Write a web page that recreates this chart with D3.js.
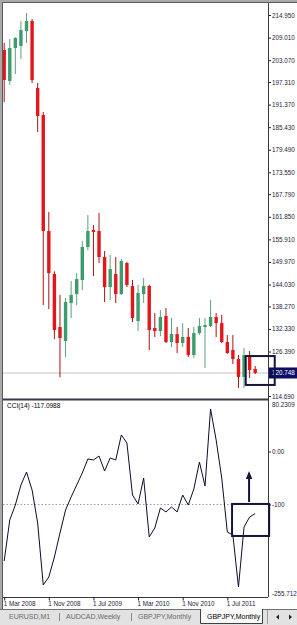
<!DOCTYPE html>
<html lang="en">
<head>
<meta charset="UTF-8">
<title>GBPJPY,Monthly</title>
<script src="https://cdn.jsdelivr.net/npm/d3@7"></script>
<style>
  html, body { margin: 0; padding: 0; background: #fff; }
  svg { display: block; }
  text { font-family: "Liberation Sans", Arial, sans-serif; }
</style>
</head>
<body>
<script>
const width = 297;
const height = 625;

const plotLeft = 3;
const axisX = 268;
const priceTop = 3;
const priceBottom = 399;
const cciTop = 400;
const cciBottom = 597;
const tabTop = 609;

// monthly bars, Mar 2008 .. Dec 2011
const months = ["2008-03","2008-04","2008-05","2008-06","2008-07","2008-08","2008-09","2008-10","2008-11","2008-12",
  "2009-01","2009-02","2009-03","2009-04","2009-05","2009-06","2009-07","2009-08","2009-09","2009-10","2009-11","2009-12",
  "2010-01","2010-02","2010-03","2010-04","2010-05","2010-06","2010-07","2010-08","2010-09","2010-10","2010-11","2010-12",
  "2011-01","2011-02","2011-03","2011-04","2011-05","2011-06","2011-07","2011-08","2011-09","2011-10","2011-11","2011-12"];

const open = [205.73, 197.58, 206.26, 206.79, 210.73, 213.37, 195.73, 188.63, 158.10, 146.79,
  132.84, 129.16, 139.16, 141.52, 145.21, 153.89, 158.37, 158.10, 151.26, 143.37, 146.79, 141.52,
  149.68, 143.63, 134.42, 141.52, 143.63, 132.58, 131.79, 135.73, 128.89, 131.00, 128.63, 130.21,
  125.47, 131.26, 132.84, 133.10, 135.47, 133.89, 128.89, 126.79, 124.42, 119.68, 125.21, 121.79];
const high = [207.58, 208.63, 209.16, 213.37, 215.47, 213.89, 197.05, 189.42, 163.10, 147.50,
  141.26, 140.50, 144.94, 147.05, 155.47, 162.31, 159.68, 162.84, 152.84, 151.79, 151.26, 150.73,
  150.00, 145.21, 143.89, 145.73, 144.00, 136.52, 137.31, 137.84, 135.21, 132.84, 133.89, 132.58,
  132.84, 135.21, 135.21, 139.95, 136.52, 136.00, 130.73, 130.73, 125.47, 127.31, 126.52, 122.58];
const low = [192.05, 196.52, 199.42, 203.37, 207.58, 197.05, 184.16, 138.63, 137.58, 129.68,
  119.63, 124.94, 135.21, 138.63, 142.58, 153.10, 146.26, 149.68, 139.42, 139.95, 139.16, 141.26,
  143.37, 134.16, 131.79, 139.16, 126.79, 130.21, 130.47, 128.63, 127.58, 126.00, 127.58, 124.94,
  124.68, 130.73, 122.05, 132.84, 130.21, 128.63, 125.73, 123.10, 116.79, 116.79, 119.42, 120.47];
const close = [197.84, 206.26, 208.89, 211.00, 213.37, 197.84, 188.37, 158.10, 147.05, 132.05,
  129.95, 139.42, 141.26, 145.47, 153.89, 158.10, 157.84, 151.26, 143.37, 148.10, 141.52, 150.21,
  143.89, 135.21, 141.79, 143.63, 132.05, 131.79, 135.47, 128.89, 131.00, 128.63, 130.21, 125.47,
  131.26, 133.10, 133.37, 135.47, 133.89, 128.89, 126.00, 124.42, 119.68, 125.47, 121.52, 120.748];

const cci = [-206.6, -129.2, -100.9, -63.2, -38.7, -72.6, -134.9, -251.9, -236.8, -199.1,
  -153.8, -110.4, -85.8, -63.2, -40.5, -14.1, -16.0, -8.5, -36.8, -12.2, -16.0, 31.2,
  16.1, -82.1, -99.0, -50.0, -161.3, -144.3, -106.6, -114.1, -104.7, -114.1, -82.1, -100.9,
  -70.7, -19.8, -65.1, 80.2309, 21.7, -50.0, -151.9, -157.5, -255.712, -142.5, -123.6, -117.0988];

const priceTicks = [214.95, 209.01, 203.07, 197.31, 191.37, 185.43, 179.49, 173.55, 167.79,
  161.85, 155.91, 149.97, 144.03, 138.27, 132.33, 126.39, 114.69];
const lastPrice = 120.748;

const cciLevels = [0, -100];
const cciLevelLabels = ["0.00", "-100"];
const cciTitle = "CCI(14) -117.0988";

const dateIdx = [0, 8, 16, 24, 32, 40];
const dateLabels = ["1 Mar 2008", "1 Nov 2008", "1 Jul 2009", "1 Mar 2010", "1 Nov 2010", "1 Jul 2011"];

const tabs = ["EURUSD,M1", "AUDCAD,Weekly", "GBPJPY,Monthly", "GBPJPY,Monthly"];

// hand drawn annotations, in data units (bar index / price / cci)
const priceBox = { i0: 43.3, i1: 48.5, top: 125.2, bottom: 117.6 };
const cciBox = { i0: 40.85, i1: 47.5, top: -99, bottom: -159.4 };
const cciArrow = { i: 43.9, from: -95.3, to: -36.8 };

const upBody = "#3d9c6b", upWick = "#5f9f7c";
const downBody = "#e3161b", downWick = "#a81313";
const ink = "#1c1c3c";
const navy = "#14143c";

const x = d3.scaleLinear().domain([0, months.length - 1]).range([4.2, 255.2]);
const yP = d3.scaleLinear().domain([114.69, 214.95]).range([396, 15]);
const yC = d3.scaleLinear().domain(d3.extent(cci)).range([587, 409]);

const svg = d3.select("body").append("svg")
    .attr("width", width)
    .attr("height", height)
    .attr("viewBox", [0, 0, width, height]);

// window frame
svg.append("rect").attr("width", width).attr("height", height).attr("fill", "#a9a9a9");
svg.append("rect").attr("x", plotLeft).attr("y", priceTop)
    .attr("width", width - plotLeft).attr("height", tabTop - priceTop).attr("fill", "#fff");
svg.append("path").attr("d", `M2.5,${tabTop}V2.5H${width}`).attr("fill", "none").attr("stroke", "#5a5a5a");

const defs = svg.append("defs");
defs.append("clipPath").attr("id", "clipP").append("rect")
    .attr("x", plotLeft).attr("y", priceTop).attr("width", axisX - plotLeft).attr("height", priceBottom - priceTop);
defs.append("clipPath").attr("id", "clipC").append("rect")
    .attr("x", plotLeft).attr("y", cciTop).attr("width", axisX - plotLeft).attr("height", cciBottom - cciTop);

// ---- price pane
const gP = svg.append("g").attr("clip-path", "url(#clipP)");

gP.append("line")
    .attr("x1", plotLeft).attr("x2", axisX)
    .attr("y1", yP(lastPrice)).attr("y2", yP(lastPrice))
    .attr("stroke", "#c4c4c4");

const candles = months.map((m, i) => ({ i, o: open[i], h: high[i], l: low[i], c: close[i] }));
const bodyW = 3.4;

gP.selectAll("line.wick").data(candles).join("line")
    .attr("class", "wick")
    .attr("x1", d => x(d.i)).attr("x2", d => x(d.i))
    .attr("y1", d => yP(d.h)).attr("y2", d => yP(d.l))
    .attr("stroke", d => d.c >= d.o ? upWick : downWick)
    .attr("stroke-width", 1);

gP.selectAll("rect.body").data(candles).join("rect")
    .attr("class", "body")
    .attr("x", d => x(d.i) - bodyW / 2)
    .attr("width", bodyW)
    .attr("y", d => yP(Math.max(d.o, d.c)))
    .attr("height", d => Math.max(1, Math.abs(yP(d.o) - yP(d.c))))
    .attr("fill", d => d.c >= d.o ? upBody : downBody);

// price axis
const priceAxis = svg.append("g")
    .attr("transform", `translate(${axisX},0)`)
    .call(d3.axisRight(yP).tickValues(priceTicks).tickFormat(d3.format(".3f")).tickSize(3).tickPadding(1));
priceAxis.select(".domain").remove();
priceAxis.selectAll("line").attr("stroke", ink);
priceAxis.selectAll("text").attr("fill", ink).attr("font-size", 6.3).attr("font-family", null);

// current price tag
const tag = svg.append("g").attr("transform", `translate(${axisX},${yP(lastPrice)})`);
tag.append("rect").attr("x", 1).attr("y", -5.5).attr("width", width - axisX).attr("height", 11).attr("fill", "#0c0c64");
tag.append("text").attr("x", 4).attr("dy", "0.34em").attr("fill", "#fff").attr("font-size", 6.3)
    .text(d3.format(".3f")(lastPrice));

// ---- CCI pane
const gC = svg.append("g").attr("clip-path", "url(#clipC)");

gC.append("line")
    .attr("x1", plotLeft).attr("x2", axisX)
    .attr("y1", yC(-100)).attr("y2", yC(-100))
    .attr("stroke", "#9a9a9a").attr("stroke-dasharray", "1.5,2");

gC.append("path")
    .datum(cci)
    .attr("fill", "none")
    .attr("stroke", "#0d0d2a")
    .attr("stroke-width", 1)
    .attr("d", d3.line().x((d, i) => x(i)).y(d => yC(d)));

svg.append("text").attr("x", 7).attr("y", cciTop + 6).attr("dy", "0.34em")
    .attr("font-size", 6.5).attr("fill", "#000").text(cciTitle);

const cciAxis = svg.append("g")
    .attr("transform", `translate(${axisX},0)`)
    .call(d3.axisRight(yC).tickValues(cciLevels).tickFormat((d, i) => cciLevelLabels[i]).tickSize(3).tickPadding(1));
cciAxis.select(".domain").remove();
cciAxis.selectAll("line").attr("stroke", ink);
cciAxis.selectAll("text").attr("fill", ink).attr("font-size", 6.3).attr("font-family", null);

const [cciMin, cciMax] = d3.extent(cci);
svg.append("text").attr("x", axisX + 4).attr("y", cciTop + 3).attr("dy", "0.71em")
    .attr("font-size", 6.3).attr("fill", ink).text(cciMax);
svg.append("text").attr("x", axisX + 4).attr("y", cciBottom - 1.5)
    .attr("font-size", 6.3).attr("fill", ink).text(cciMin);

// ---- frame lines
svg.append("line").attr("x1", axisX + 0.5).attr("x2", axisX + 0.5).attr("y1", priceTop).attr("y2", cciBottom)
    .attr("stroke", "#3a3a3a");
svg.append("line").attr("x1", plotLeft).attr("x2", axisX).attr("y1", 399.5).attr("y2", 399.5)
    .attr("stroke", "#3a3a4a").attr("stroke-width", 2);
svg.append("line").attr("x1", plotLeft).attr("x2", axisX).attr("y1", cciBottom + 0.5).attr("y2", cciBottom + 0.5)
    .attr("stroke", "#3a3a3a");

// time axis
const timeAxis = svg.append("g")
    .attr("transform", `translate(0,${cciBottom + 0.5})`)
    .call(d3.axisBottom(x).tickValues(dateIdx).tickFormat((d, i) => dateLabels[i]).tickSize(3).tickPadding(1));
timeAxis.select(".domain").remove();
timeAxis.selectAll("line").attr("stroke", ink);
timeAxis.selectAll("text").attr("fill", ink).attr("font-size", 6.3).attr("font-family", null)
    .attr("text-anchor", "start").attr("x", -1);

// ---- annotations
svg.append("rect")
    .attr("x", x(priceBox.i0)).attr("y", yP(priceBox.top))
    .attr("width", x(priceBox.i1) - x(priceBox.i0)).attr("height", yP(priceBox.bottom) - yP(priceBox.top))
    .attr("fill", "none").attr("stroke", navy).attr("stroke-width", 2);

svg.append("rect")
    .attr("x", x(cciBox.i0)).attr("y", yC(cciBox.top))
    .attr("width", x(cciBox.i1) - x(cciBox.i0)).attr("height", yC(cciBox.bottom) - yC(cciBox.top))
    .attr("fill", "none").attr("stroke", navy).attr("stroke-width", 2);

const ax = x(cciArrow.i), ay0 = yC(cciArrow.from), ay1 = yC(cciArrow.to);
svg.append("line").attr("x1", ax).attr("x2", ax).attr("y1", ay0).attr("y2", ay1 + 6)
    .attr("stroke", navy).attr("stroke-width", 2);
svg.append("path").attr("d", `M${ax},${ay1}L${ax - 3.2},${ay1 + 8}L${ax + 3.2},${ay1 + 8}Z`).attr("fill", navy);

// ---- tab bar
const tabBar = svg.append("g").attr("transform", `translate(0,${tabTop})`);
tabBar.append("rect").attr("width", width).attr("height", height - tabTop).attr("fill", "#e2e2e2");
tabBar.append("line").attr("x1", 0).attr("x2", 200).attr("y1", 0.5).attr("y2", 0.5).attr("stroke", "#707070");
tabBar.append("line").attr("x1", 263).attr("x2", width).attr("y1", 0.5).attr("y2", 0.5).attr("stroke", "#707070");
tabBar.append("path").attr("d", "M200.5,0V14.5H262.5V0").attr("fill", "#fafafa").attr("stroke", "#404040");

const tabX = [9, 66, 138, 207];
tabBar.selectAll("text.tab").data(tabs).join("text")
    .attr("class", "tab")
    .attr("x", (d, i) => tabX[i]).attr("y", 8).attr("dy", "0.34em")
    .attr("font-size", 7)
    .attr("fill", (d, i) => i === tabs.length - 1 ? "#000" : "#6a6a6a")
    .text(d => d);
tabBar.selectAll("line.sep").data([59.5, 131.5]).join("line")
    .attr("class", "sep")
    .attr("x1", d => d).attr("x2", d => d).attr("y1", 4).attr("y2", 12)
    .attr("stroke", "#8a8a8a");

tabBar.append("line").attr("x1", 267.5).attr("x2", 267.5).attr("y1", 1).attr("y2", 15).attr("stroke", "#a0a0a0");
tabBar.append("path").attr("d", "M276,8L279,5.5V10.5Z").attr("fill", "#202020");
tabBar.append("path").attr("d", "M292,8L289,5.5V10.5Z").attr("fill", "#202020");
</script>
</body>
</html>
